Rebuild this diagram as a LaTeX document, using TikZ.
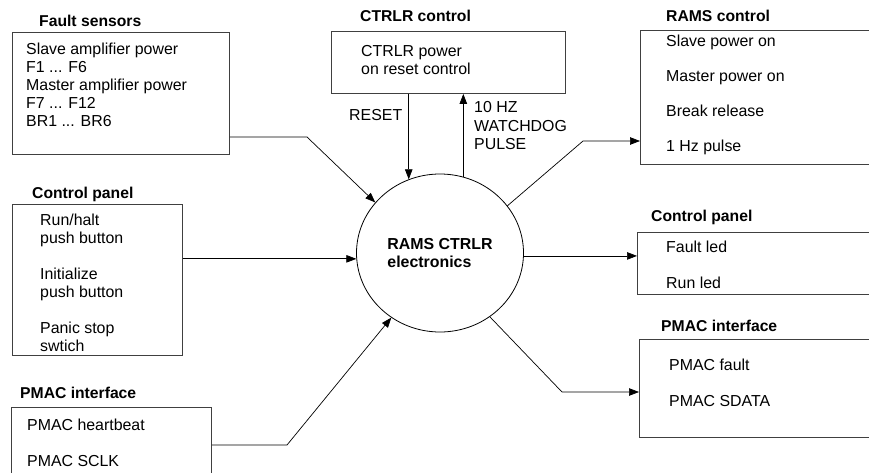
\documentclass[tikz,border=0pt]{standalone}
\usepackage{fontspec}
\setmainfont{Liberation Sans}
\usetikzlibrary{arrows.meta,shapes.geometric}
\begin{document}
\begin{tikzpicture}[x=1pt,y=-1pt,
 box/.style={draw=black!75, line width=0.9pt, anchor=north west, inner sep=0pt},
 ttl/.style={anchor=base west, inner sep=0pt, font=\fontsize{15.7}{18}\selectfont\bfseries},
 txt/.style={anchor=base west, inner sep=0pt, align=left, font=\fontsize{15.9}{18}\selectfont},
 arr/.style={draw=black, line width=0.7pt, -{Triangle[length=10pt,width=7.5pt]}}]
\useasboundingbox (0,0) rectangle (869,473);
\clip (0,0) rectangle (869,473);
% boxes
\node[box, minimum width=217, minimum height=122] (fs) at (12,32) {};
\node[box, minimum width=234, minimum height=62] (cc) at (331,31) {};
\node[box, minimum width=300, minimum height=134] (rc) at (640,30) {};
\node[box, minimum width=170, minimum height=151] (lcp) at (12,204) {};
\node[box, minimum width=200, minimum height=100] (lpm) at (11,407) {};
\node[box, minimum width=300, minimum height=62] (rcp) at (637,232) {};
\node[box, minimum width=300, minimum height=98] (rpm) at (639,339) {};
% central circle
\node[ellipse, draw, line width=0.8pt, minimum width=167, minimum height=158, inner sep=0pt,
  align=left, font=\fontsize{15.9}{18}\selectfont\bfseries] (c) at (440,253) {RAMS CTRLR\\electronics};
% titles
\node[ttl] (fst) at (39,27) {Fault sensors};
\node[ttl] (cct) at (360,22) {CTRLR control};
\node[ttl] (rct) at (666,22) {RAMS control};
\node[ttl] (lcpt) at (32,198) {Control panel};
\node[ttl] (lpmt) at (20,398) {PMAC interface};
\node[ttl] (rcpt) at (651,221) {Control panel};
\node[ttl] (rpmt) at (661,331) {PMAC interface};
% box texts (anchored at the baseline of the last line)
\node[txt] (fsx) at (26,126.5) {Slave amplifier power\\F1 ... F6\\Master amplifier power\\F7 ... F12\\BR1 ... BR6};
\node[txt] (ccx) at (361,75) {CTRLR power\\on reset control};
\node[txt] (rcx) at (666,151.7) {Slave power on\\[17pt]Master power on\\[17pt]Break release\\[17pt]1 Hz pulse};
\node[txt] (lcpx) at (40,351.7) {Run/halt\\push button\\[18pt]Initialize\\push button\\[18pt]Panic stop\\swtich};
\node[txt] (lpmx) at (27,466) {PMAC heartbeat\\[18pt]PMAC SCLK};
\node[txt] (rcpx) at (666,288.3) {Fault led\\[17.6pt]Run led};
\node[txt] (rpmx) at (669,406) {PMAC fault\\[18pt]PMAC SDATA};
% connector labels
\node[txt] (reset) at (349,121) {RESET};
\node[txt] (wd) at (474,150) {10 HZ\\[0.7pt]WATCHDOG\\[0.7pt]PULSE};
% connectors
\coordinate (b1) at (307,137);
\draw[arr] (fs.east |- b1) -- (b1) -- (c.142);
\draw[arr] (lcp.east |- c.184) -- (c.184);
\coordinate (b3) at (287,445);
\draw[arr] (lpm.east |- b3) -- (b3) -- (c.233.8);
\draw[arr] (c.113.7 |- cc.south) -- (c.113.7);
\draw[arr] (c.73.2) -- (c.73.2 |- cc.south);
\coordinate (b5) at (583,141);
\draw[arr] (c.35.2) -- (b5) -- (rc.west |- b5);
\draw[arr] (c.358) -- (rcp.west |- c.358);
\coordinate (b7) at (562,392);
\draw[arr] (c.308) -- (b7) -- (rpm.west |- b7);
\end{tikzpicture}
\end{document}
